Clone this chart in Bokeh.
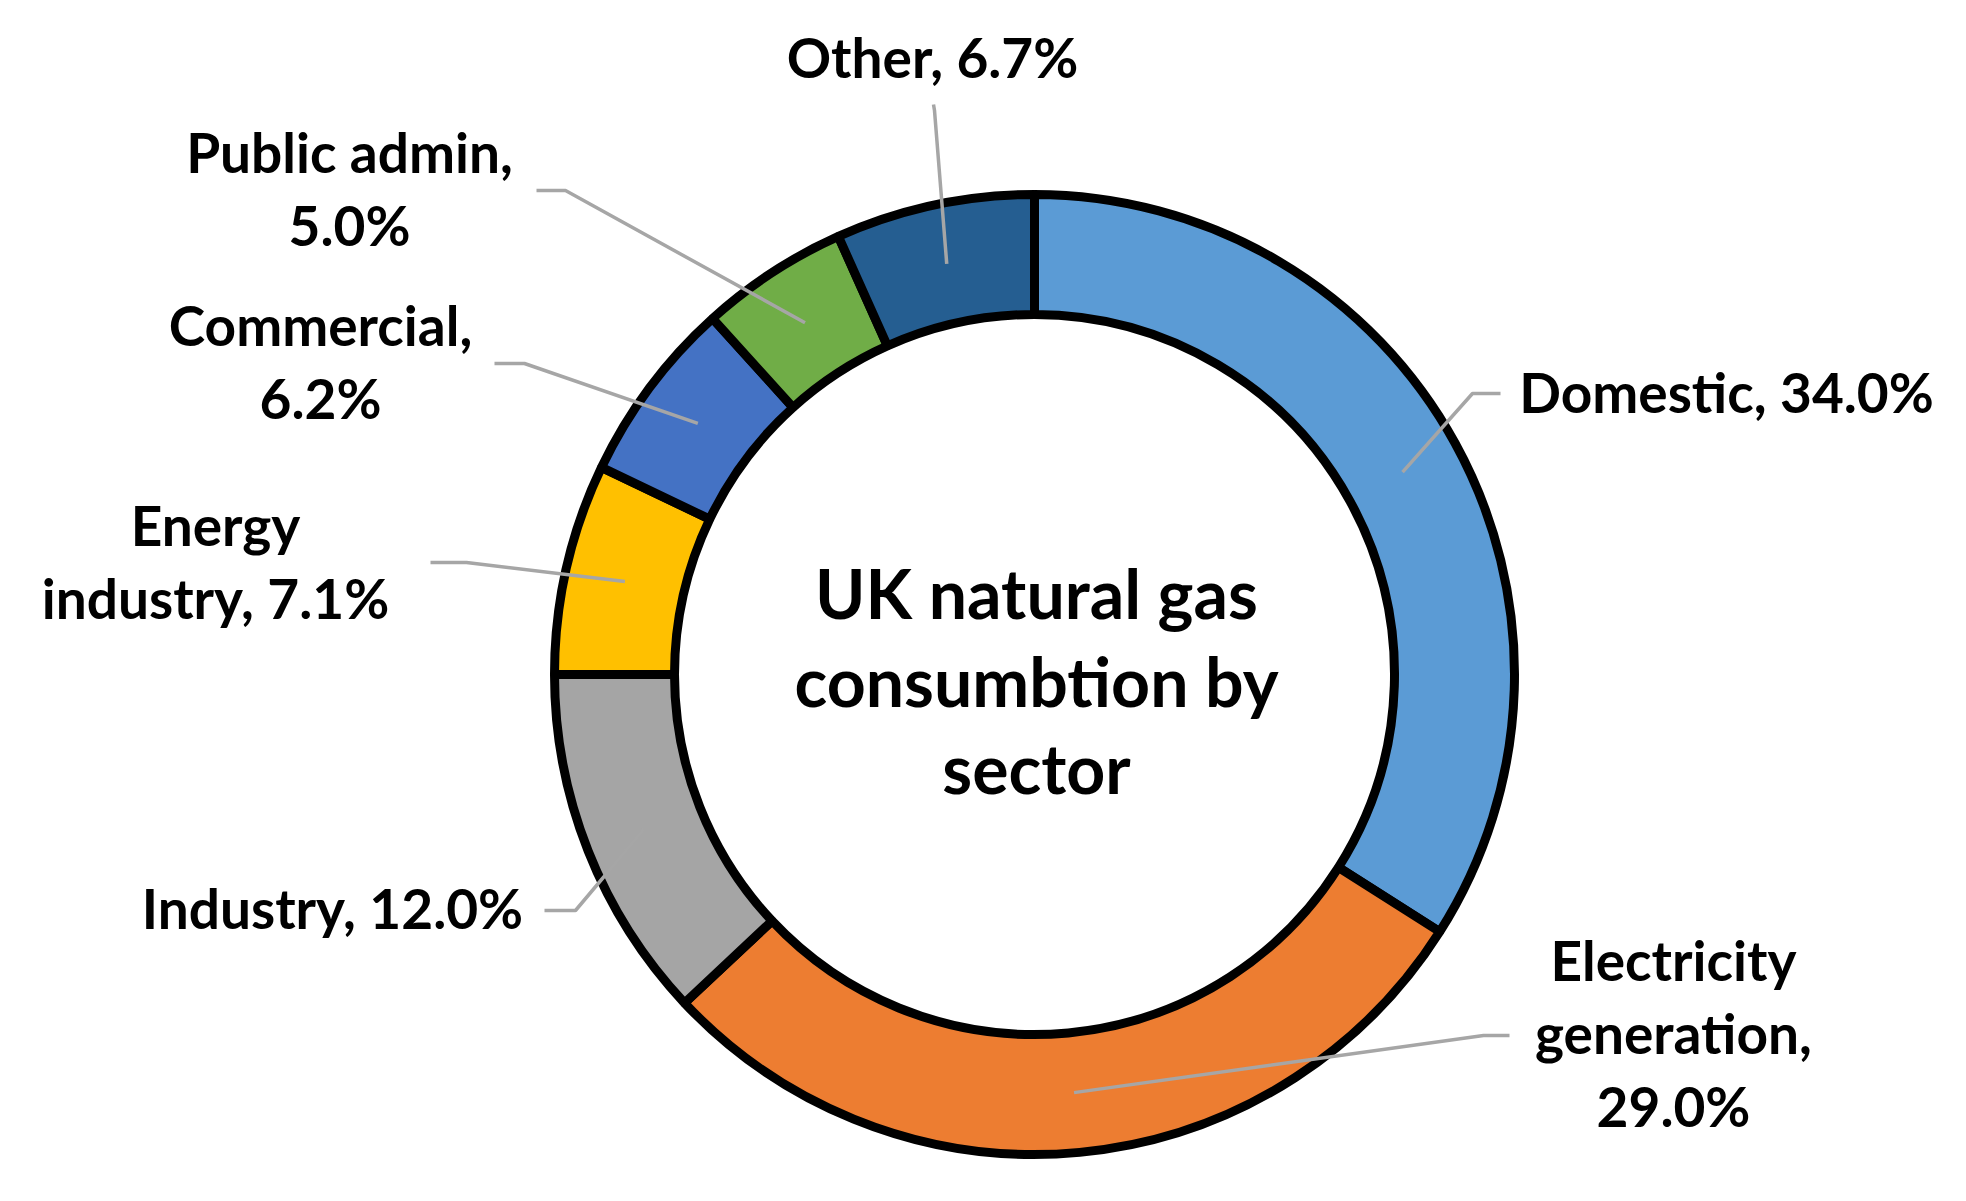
import math
from bokeh.plotting import figure
from bokeh.models import Range1d, ColumnDataSource
from bokeh.core.properties import value
from bokeh.embed import file_html
from bokeh.resources import INLINE

# ---------------- data ----------------
CATEGORIES = ["Domestic", "Electricity generation", "Industry", "Energy industry",
              "Commercial", "Public admin", "Other"]
SHARES = [34.0, 29.0, 12.0, 7.1, 6.2, 5.0, 6.7]
TITLE_LINES = ["UK natural gas", "consumbtion by", "sector"]

# ---------------- styles / layout ----------------
COLORS = ["#5B9BD5", "#ED7D31", "#A5A5A5", "#FFC000", "#4472C4", "#70AD47", "#255E91"]
WORDS_PER_LINE = [[2], [1, 1, 1], [2], [1, 2], [1, 1], [2, 1], [2]]
# label anchors in reference pixels: centre x, first baseline y
LABEL_X = [1726, 1673, 332, 215, 320, 349, 932]
LABEL_Y = [391, 959, 907, 524, 324, 151, 56]
LINE_STEP = 73
# leader start and elbow (reference pixels)
LEADER_START = [(1500, 393), (1509, 1035), (544, 910), (430, 562), (494, 363), (536, 190), (933, 104)]
LEADER_ELBOW = [(1472, 393), (1483, 1035), (575, 910), (466, 562), (524, 363), (565, 190), (934, 110)]
TITLE_X = 1036
TITLE_Y = [592, 680, 767]

W, H = 1950, 1185


def px(X):
    return X


def py(Y):
    return H - Y


CX, CY = px(1034), py(674)
R_OUT, R_IN = 480, 360
R_MID = (R_OUT + R_IN) / 2
FONT = "Lato"

p = figure(width=W, height=H, x_range=Range1d(0, W), y_range=Range1d(0, H),
           output_backend="svg", toolbar_location=None, min_border=0,
           x_axis_location=None, y_axis_location=None)
p.grid.visible = False
p.outline_line_color = None
p.background_fill_color = "white"
p.border_fill_color = "white"

total = sum(SHARES)
starts, ends, mids = [], [], []
cum = 0.0
for s in SHARES:
    starts.append(math.pi / 2 - 2 * math.pi * cum / total)
    mids.append(math.pi / 2 - 2 * math.pi * (cum + s / 2) / total)
    cum += s
    ends.append(math.pi / 2 - 2 * math.pi * cum / total)

src = ColumnDataSource(dict(x=[CX] * len(SHARES), y=[CY] * len(SHARES),
                            start=starts, end=ends, color=COLORS))
p.annular_wedge(x="x", y="y", inner_radius=R_IN, outer_radius=R_OUT,
                start_angle="start", end_angle="end", direction="clock",
                fill_color="color", line_color="black", line_width=9, source=src)

# leader lines
xs, ys = [], []
for i, m in enumerate(mids):
    ex = CX + R_MID * math.cos(m)
    ey = CY + R_MID * math.sin(m)
    (sx, sy), (bx, by) = LEADER_START[i], LEADER_ELBOW[i]
    xs.append([px(sx), px(bx), ex])
    ys.append([py(sy), py(by), ey])
p.multi_line(xs=xs, ys=ys, line_color="#A6A6A6", line_width=3.5)

# labels
tx, ty, tt = [], [], []
for i, (cat, val) in enumerate(zip(CATEGORIES, SHARES)):
    words = f"{cat}, {val:.1f}%".split(" ")
    k = 0
    for j, n in enumerate(WORDS_PER_LINE[i]):
        tt.append(" ".join(words[k:k + n]))
        k += n
        tx.append(px(LABEL_X[i]))
        ty.append(py(LABEL_Y[i] + j * LINE_STEP))
p.text(x=tx, y=ty, text=tt, text_align="center", text_baseline="alphabetic",
       text_font=value(FONT), text_font_style="bold", text_font_size=value("55px"),
       text_color="black")

# centre title
p.text(x=[px(TITLE_X)] * 3, y=[py(v) for v in TITLE_Y], text=TITLE_LINES,
       text_align="center", text_baseline="alphabetic",
       text_font=value(FONT), text_font_style="bold", text_font_size=value("68px"),
       text_color="black")

open("out.html", "w").write(file_html(p, INLINE))
